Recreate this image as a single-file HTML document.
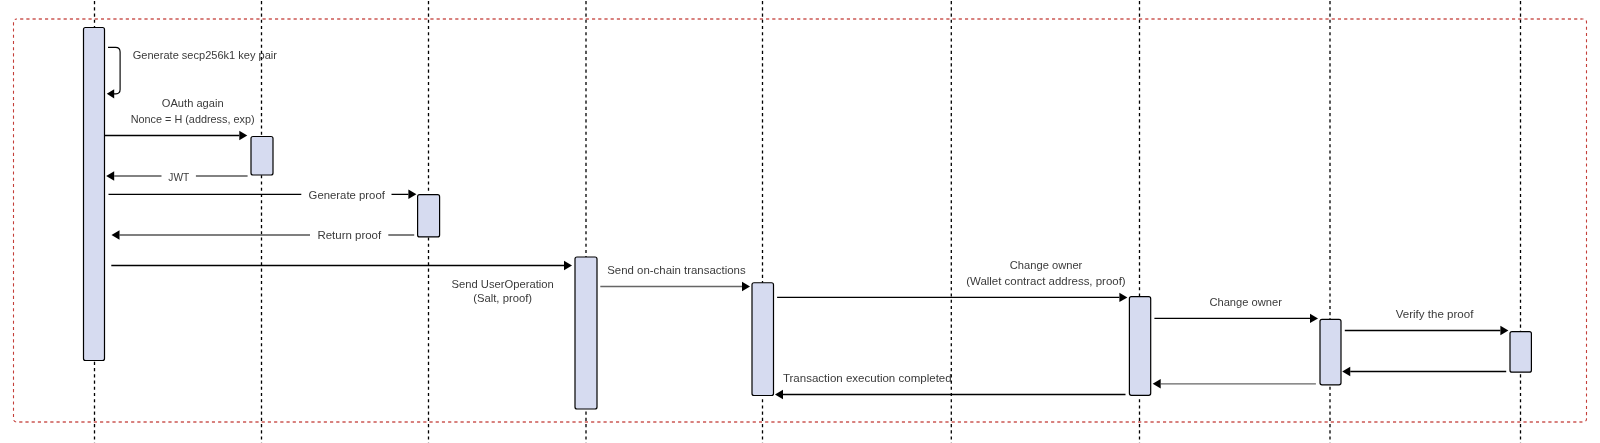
<!DOCTYPE html><html><head><meta charset="utf-8"><style>html,body{margin:0;padding:0;background:#fff;width:1600px;height:443px;overflow:hidden}svg{display:block;will-change:transform}</style></head><body>
<svg width="1600" height="443" viewBox="0 0 1600 443">
<rect x="0" y="0" width="1600" height="443" fill="#fff"/>
<rect x="13.5" y="19" width="1573" height="403" rx="3" ry="3" fill="none" stroke="#c43f3a" stroke-width="1.1" stroke-dasharray="3.108 3.108" stroke-dashoffset="2.57"/>
<clipPath id="hc"><rect x="18" y="10" width="1564" height="18"/><rect x="18" y="413" width="1564" height="18"/></clipPath>
<rect clip-path="url(#hc)" x="13.5" y="19" width="1573" height="403" rx="3" ry="3" fill="none" stroke="#c43f3a" stroke-opacity="0.6" stroke-width="1.1" stroke-dasharray="3.108 3.108" stroke-dashoffset="2.57"/>
<line x1="94.5" y1="-0.4" x2="94.5" y2="443" stroke="#000" stroke-width="1.3" stroke-dasharray="3.11 3.11" stroke-dashoffset="-1.5"/>
<line x1="261.5" y1="-0.4" x2="261.5" y2="443" stroke="#000" stroke-width="1.3" stroke-dasharray="3.11 3.11" stroke-dashoffset="-1.5"/>
<line x1="428.5" y1="-0.4" x2="428.5" y2="443" stroke="#000" stroke-width="1.3" stroke-dasharray="3.11 3.11" stroke-dashoffset="-1.5"/>
<line x1="586" y1="-0.4" x2="586" y2="443" stroke="#000" stroke-width="1.3" stroke-dasharray="3.11 3.11" stroke-dashoffset="-1.5"/>
<line x1="762.5" y1="-0.4" x2="762.5" y2="443" stroke="#000" stroke-width="1.3" stroke-dasharray="3.11 3.11" stroke-dashoffset="-1.5"/>
<line x1="951.3" y1="-0.4" x2="951.3" y2="443" stroke="#000" stroke-width="1.3" stroke-dasharray="3.11 3.11" stroke-dashoffset="-1.5"/>
<line x1="1139.5" y1="-0.4" x2="1139.5" y2="443" stroke="#000" stroke-width="1.3" stroke-dasharray="3.11 3.11" stroke-dashoffset="-1.5"/>
<line x1="1330" y1="-0.4" x2="1330" y2="443" stroke="#000" stroke-width="1.3" stroke-dasharray="3.11 3.11" stroke-dashoffset="-1.5"/>
<line x1="1520.5" y1="-0.4" x2="1520.5" y2="443" stroke="#000" stroke-width="1.3" stroke-dasharray="3.11 3.11" stroke-dashoffset="-1.5"/>
<text x="132.75" y="58.6" textLength="144.25" lengthAdjust="spacingAndGlyphs" font-family="Liberation Sans" font-size="11.4" fill="#3a3a3a">Generate secp256k1 key pair</text>
<text x="161.8" y="107" textLength="61.80" lengthAdjust="spacingAndGlyphs" font-family="Liberation Sans" font-size="11.4" fill="#3a3a3a">OAuth again</text>
<text x="130.7" y="123" textLength="123.90" lengthAdjust="spacingAndGlyphs" font-family="Liberation Sans" font-size="11.4" fill="#3a3a3a">Nonce = H (address, exp)</text>
<text x="168.3" y="180.7" textLength="20.90" lengthAdjust="spacingAndGlyphs" font-family="Liberation Sans" font-size="11.4" fill="#3a3a3a">JWT</text>
<text x="308.6" y="198.8" textLength="76.30" lengthAdjust="spacingAndGlyphs" font-family="Liberation Sans" font-size="11.4" fill="#3a3a3a">Generate proof</text>
<text x="317.4" y="239.4" textLength="63.80" lengthAdjust="spacingAndGlyphs" font-family="Liberation Sans" font-size="11.4" fill="#3a3a3a">Return proof</text>
<text x="451.5" y="287.5" textLength="102.30" lengthAdjust="spacingAndGlyphs" font-family="Liberation Sans" font-size="11.4" fill="#3a3a3a">Send UserOperation</text>
<text x="473.2" y="302" textLength="58.90" lengthAdjust="spacingAndGlyphs" font-family="Liberation Sans" font-size="11.4" fill="#3a3a3a">(Salt, proof)</text>
<text x="607.25" y="274.4" textLength="138.35" lengthAdjust="spacingAndGlyphs" font-family="Liberation Sans" font-size="11.4" fill="#3a3a3a">Send on-chain transactions</text>
<text x="1009.8" y="269" textLength="72.50" lengthAdjust="spacingAndGlyphs" font-family="Liberation Sans" font-size="11.4" fill="#3a3a3a">Change owner</text>
<text x="966.2" y="285" textLength="159.50" lengthAdjust="spacingAndGlyphs" font-family="Liberation Sans" font-size="11.4" fill="#3a3a3a">(Wallet contract address, proof)</text>
<text x="1209.4" y="306" textLength="72.60" lengthAdjust="spacingAndGlyphs" font-family="Liberation Sans" font-size="11.4" fill="#3a3a3a">Change owner</text>
<text x="1395.7" y="317.9" textLength="77.70" lengthAdjust="spacingAndGlyphs" font-family="Liberation Sans" font-size="11.4" fill="#3a3a3a">Verify the proof</text>
<text x="782.9" y="382" textLength="168.80" lengthAdjust="spacingAndGlyphs" font-family="Liberation Sans" font-size="11.4" fill="#3a3a3a">Transaction execution completed</text>
<rect x="83.5" y="27.5" width="21.00" height="333.00" rx="2" ry="2" fill="#d6dbf0" stroke="#000" stroke-width="1.2"/>
<rect x="251" y="136.5" width="22.00" height="38.50" rx="2" ry="2" fill="#d6dbf0" stroke="#000" stroke-width="1.2"/>
<rect x="417.6" y="194.7" width="22.00" height="42.20" rx="2" ry="2" fill="#d6dbf0" stroke="#000" stroke-width="1.2"/>
<rect x="575" y="257" width="22.00" height="152.00" rx="2" ry="2" fill="#d6dbf0" stroke="#000" stroke-width="1.2"/>
<rect x="752" y="282.75" width="21.50" height="112.75" rx="2" ry="2" fill="#d6dbf0" stroke="#000" stroke-width="1.2"/>
<rect x="1129.4" y="296.7" width="21.30" height="98.60" rx="2" ry="2" fill="#d6dbf0" stroke="#000" stroke-width="1.2"/>
<rect x="1320" y="319.4" width="21.00" height="65.40" rx="2" ry="2" fill="#d6dbf0" stroke="#000" stroke-width="1.2"/>
<rect x="1510" y="331.6" width="21.40" height="40.60" rx="2" ry="2" fill="#d6dbf0" stroke="#000" stroke-width="1.2"/>
<path d="M104.5,135.5H239.3" stroke="#000" stroke-width="1.3" fill="none"/>
<path d="M247.3,135.5L239.3,130.8L239.3,140.2Z" fill="#000"/>
<path d="M247.6,176H195.9M161.5,176H114.2" stroke="#5a5a5a" stroke-width="1.3" fill="none"/>
<path d="M106.2,176L114.2,171.3L114.2,180.7Z" fill="#000"/>
<path d="M108.5,194.3H301.3M391.5,194.3H408.4" stroke="#000" stroke-width="1.3" fill="none"/>
<path d="M416.4,194.3L408.4,189.60000000000002L408.4,199.0Z" fill="#000"/>
<path d="M414.2,235H388.3M310,235H119.5" stroke="#555" stroke-width="1.3" fill="none"/>
<path d="M111.5,235L119.5,230.3L119.5,239.7Z" fill="#000"/>
<path d="M111.3,265.5H564.0" stroke="#000" stroke-width="1.3" fill="none"/>
<path d="M572,265.5L564.0,260.8L564.0,270.2Z" fill="#000"/>
<path d="M600.3,286.5H742.0" stroke="#666" stroke-width="1.3" fill="none"/>
<path d="M750,286.5L742.0,281.8L742.0,291.2Z" fill="#000"/>
<path d="M777.1,297.4H1119.4" stroke="#000" stroke-width="1.3" fill="none"/>
<path d="M1127.4,297.4L1119.4,292.7L1119.4,302.09999999999997Z" fill="#000"/>
<path d="M1154.4,318.4H1310.0" stroke="#000" stroke-width="1.3" fill="none"/>
<path d="M1318,318.4L1310.0,313.7L1310.0,323.09999999999997Z" fill="#000"/>
<path d="M1344.8,330.5H1500.4" stroke="#000" stroke-width="1.3" fill="none"/>
<path d="M1508.4,330.5L1500.4,325.8L1500.4,335.2Z" fill="#000"/>
<path d="M1506.2,371.5H1350.25" stroke="#000" stroke-width="1.3" fill="none"/>
<path d="M1342.25,371.5L1350.25,366.8L1350.25,376.2Z" fill="#000"/>
<path d="M1315.9,383.8H1160.7" stroke="#666" stroke-width="1.3" fill="none"/>
<path d="M1152.7,383.8L1160.7,379.1L1160.7,388.5Z" fill="#000"/>
<path d="M1125.5,394.5H783.0" stroke="#000" stroke-width="1.3" fill="none"/>
<path d="M775,394.5L783.0,389.8L783.0,399.2Z" fill="#000"/>
<path d="M108,47.4H115.5Q120.1,47.4 120.1,52V89.6Q120.1,93.8 116,93.8H114" stroke="#000" stroke-width="1.15" fill="none"/>
<path d="M106.8,93.8L114.2,89.2L114.2,98.4Z" fill="#000"/>
</svg></body></html>
